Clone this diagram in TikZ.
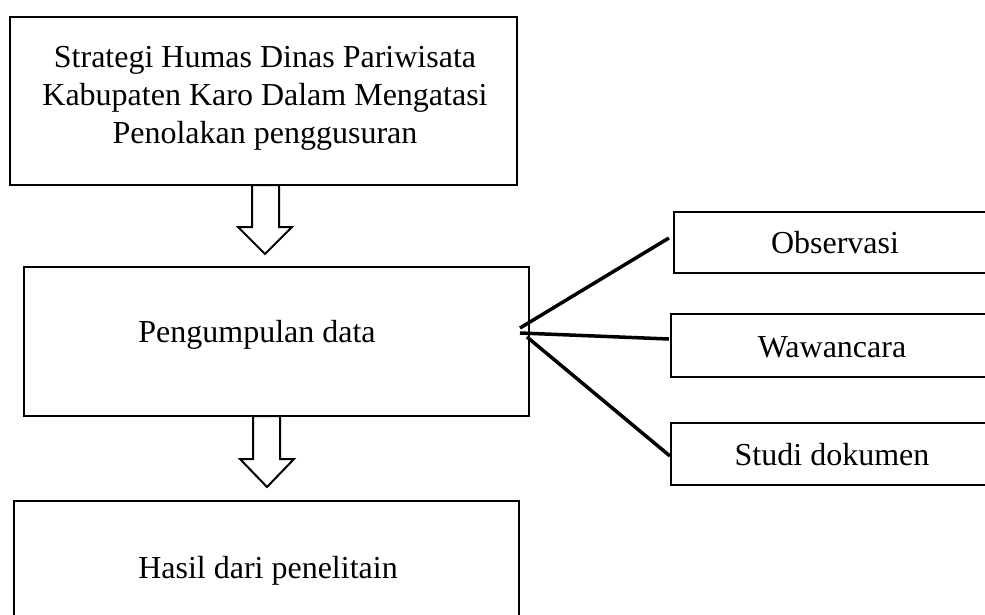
\documentclass[tikz,border=0pt]{standalone}
\usepackage{fontspec}
\setmainfont{Liberation Serif}
\begin{document}
\begin{tikzpicture}[x=1pt,y=-1pt,
  box/.style={draw=black, line width=2.2pt, fill=none, inner sep=0pt},
  txt/.style={font=\fontsize{32}{38}\selectfont, inner sep=0pt, align=center},
  link/.style={draw=black, line width=3.5pt},
  blockarrow/.style={draw=black, line width=2pt, fill=white, line join=miter}]
\useasboundingbox (0,0) rectangle (985,615);
\clip (0,0) rectangle (985,615);
% main boxes
\node[box, minimum width=507pt, minimum height=168pt] (b1) at (263.5,101) {};
\node[box, minimum width=505pt, minimum height=149pt] (b2) at (276.5,341.5) {};
\node[box, minimum width=505pt, minimum height=140pt] (b3) at (266.5,571) {};
% side boxes (cut by the right edge)
\node[box, minimum width=330pt, minimum height=61pt] (obs) at (839,242.5) {};
\node[box, minimum width=334pt, minimum height=63pt] (waw) at (838,345.5) {};
\node[box, minimum width=334pt, minimum height=62pt] (stu) at (838,454) {};
% texts
\node[txt, anchor=base] (t1a) at (265,67.5) {Strategi Humas Dinas Pariwisata};
\node[txt, anchor=base] (t1b) at (265,105.6) {Kabupaten Karo Dalam Mengatasi};
\node[txt, anchor=base] (t1c) at (265,143.6) {Penolakan penggusuran};
\node[txt, anchor=base] (t2) at (257,342) {Pengumpulan data};
\node[txt, anchor=base] (t3) at (268,578) {Hasil dari penelitain};
\node[txt, anchor=base] (to) at (835,253) {Observasi};
\node[txt, anchor=base] (tw) at (832,357) {Wawancara};
\node[txt, anchor=base] (ts) at (832,465) {Studi dokumen};
% hub points
\coordinate (h1) at (520,328);
\coordinate (h2) at (520,333);
\coordinate (h3) at (527,337);
\draw[link] (h1) -- ([xshift=-4pt,yshift=4.5pt]obs.west);
\draw[link] (h2) -- ([xshift=-1pt,yshift=6.5pt]waw.west);
\draw[link] (h3) -- ([xshift=0pt,yshift=-2pt]stu.west);
% block arrows
\draw[blockarrow] (252,185) -- (252,227) -- (238,227) -- (265,254) -- (292,227) -- (279,227) -- (279,185) -- cycle;
\draw[blockarrow] (253,416) -- (253,459) -- (240,459) -- (267,487) -- (294,459) -- (280,459) -- (280,416) -- cycle;
\end{tikzpicture}
\end{document}
